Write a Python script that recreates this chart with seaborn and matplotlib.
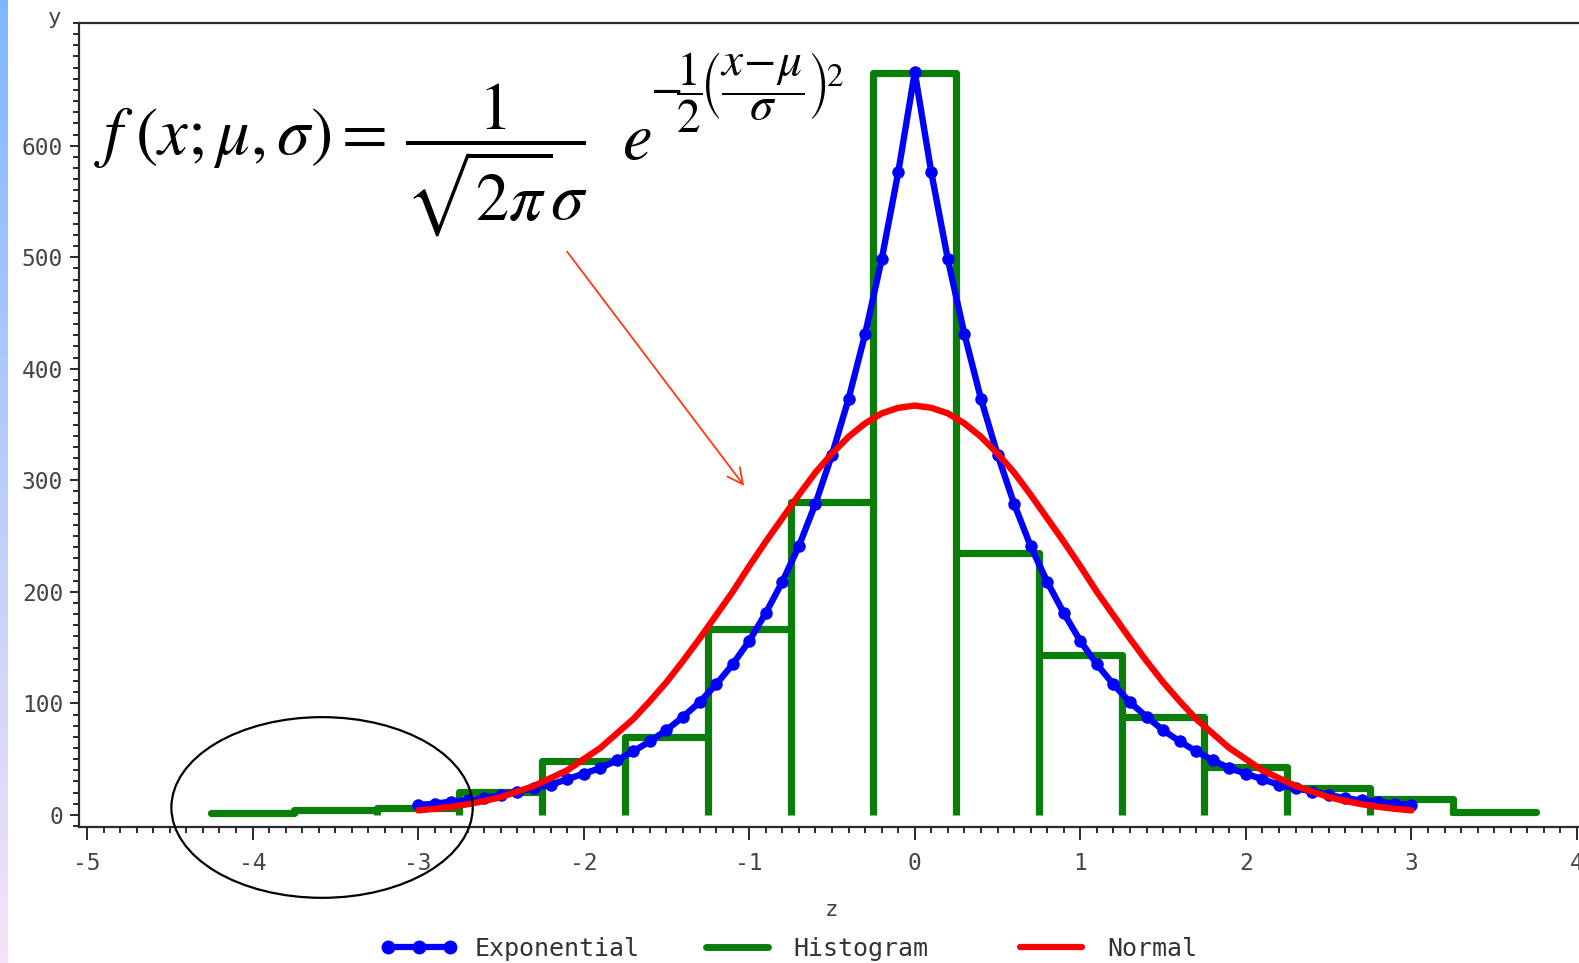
import numpy as np
import pandas as pd
import matplotlib
matplotlib.use("Agg")
import matplotlib.pyplot as plt
import seaborn as sns
from matplotlib.patches import Ellipse
from matplotlib.lines import Line2D
from matplotlib.ticker import MultipleLocator, FixedLocator

# ---------------- data ----------------
z_curve = [round(-3.0 + 0.1 * i, 1) for i in range(61)]
exp_right = [666, 576, 498, 431, 373, 323, 279, 241, 209, 181, 156, 135, 117, 101,
             88, 76, 66, 57, 49, 42, 37, 32, 27, 24, 21, 18, 15, 13, 12, 10, 9]
exponential = exp_right[::-1] + exp_right[1:]
norm_right = [367, 365, 360, 351, 339, 324, 307, 287, 266, 245, 223, 200, 179, 158,
              138, 119, 102, 86, 73, 60, 50, 40, 33, 26, 21, 16, 12.5, 9.6, 7.3, 5.5, 4.1]
normal = norm_right[::-1] + norm_right[1:]

hist_edges = [-4.25, -3.75, -3.25, -2.75, -2.25, -1.75, -1.25, -0.75, -0.25,
              0.25, 0.75, 1.25, 1.75, 2.25, 2.75, 3.25, 3.75]
hist_heights = [2, 4, 6, 21, 48, 70, 167, 281, 665, 235, 143, 88, 43, 24, 14, 3]

x_ticks = [-5, -4, -3, -2, -1, 0, 1, 2, 3, 4]
y_ticks = [0, 100, 200, 300, 400, 500, 600]
legend_labels = ["Exponential", "Histogram", "Normal"]

BLUE = "#0000ff"
GREEN = "#0a7d0a"
RED = "#ff0000"
AXC = "#2a2a2a"

sns.set_theme(style="white")
plt.rcParams["mathtext.fontset"] = "stix"
plt.rcParams["font.family"] = ["DejaVu Sans Mono", "DejaVu Sans"]

W, H = 1579, 963
fig = plt.figure(figsize=(W / 100, H / 100), dpi=100)
fig.patch.set_facecolor("white")

# left gradient strip
gax = fig.add_axes([0, 0, 7 / W, 1])
top = np.array([0.50, 0.72, 1.00])
bot = np.array([0.96, 0.89, 0.97])
t = np.linspace(0, 1, 200)[:, None]
grad = (top[None, :] * (1 - t) + bot[None, :] * t)[:, None, :]
gax.imshow(grad, aspect="auto", extent=[0, 1, 0, 1])
gax.axis("off")

ax = fig.add_axes([79 / W, (H - 827) / H, 1 - 79 / W, (827 - 23) / H])
ax.set_facecolor("white")

# histogram (step outline)
ax.hlines(hist_heights, hist_edges[:-1], hist_edges[1:], color=GREEN, lw=5.2,
          capstyle="round", zorder=2)
inner = hist_edges[1:-1]
vtops = [max(hist_heights[i], hist_heights[i + 1]) for i in range(len(inner))]
ax.vlines(inner, 0, vtops, color=GREEN, lw=5.2, zorder=2)

df = pd.DataFrame({"z": z_curve, "Exponential": exponential, "Normal": normal})
sns.lineplot(data=df, x="z", y="Exponential", ax=ax, color=BLUE, lw=4.6,
             marker="o", markersize=9, markeredgewidth=0, zorder=3)
sns.lineplot(data=df, x="z", y="Normal", ax=ax, color=RED, lw=4.6, zorder=4)

ax.set_xlim(-5.048, 4.012)
ax.set_ylim(-10.8, 710)

ax.xaxis.set_major_locator(FixedLocator(x_ticks))
ax.xaxis.set_minor_locator(MultipleLocator(0.1))
ax.yaxis.set_major_locator(FixedLocator(y_ticks))
ax.yaxis.set_minor_locator(MultipleLocator(10))
ax.set_xticklabels([str(v) for v in x_ticks])
ax.set_yticklabels([str(v) for v in y_ticks])
ax.tick_params(axis="x", which="major", direction="out", length=9, width=1.4,
               color=AXC, labelsize=16.5, labelcolor="#444444", pad=9, bottom=True)
ax.tick_params(axis="x", which="minor", direction="out", length=4.5, width=1.4,
               color=AXC, bottom=True)
ax.tick_params(axis="y", which="major", direction="out", length=6.5, width=1.4,
               color=AXC, labelsize=16.5, labelcolor="#444444", pad=5, left=True)
ax.tick_params(axis="y", which="minor", direction="out", length=4.3, width=1.4,
               color=AXC, left=True)
for s in ["left", "top", "bottom"]:
    ax.spines[s].set_visible(True)
    ax.spines[s].set_color(AXC)
    ax.spines[s].set_linewidth(1.6)
ax.spines["right"].set_visible(False)

ax.set_xlabel("")
ax.set_ylabel("")
fig.text(831 / W, 1 - 910 / H, "z", fontsize=16, color="#444444",
         ha="center", va="center")
fig.text(55 / W, 1 - 18 / H, "y", fontsize=16, color="#444444",
         ha="center", va="center")

# ellipse around the left tail
ax.add_patch(Ellipse((-3.58, 6.7), 1.82, 162, fill=False, ec="black", lw=1.6,
                     clip_on=False, zorder=5))

# arrow
ax.annotate("", xy=(-1.02, 293), xytext=(-2.11, 507),
            arrowprops=dict(arrowstyle="->", color="#ff3a10", lw=1.3,
                            mutation_scale=28), zorder=6)

# formula (main part, the e, and its exponent)
main_part = r"$f\;(x;\mu,\sigma)=\,\dfrac{1}{\sqrt{2\pi}\sigma}$"
fig.text(94 / W, 1 - 160 / H, main_part, fontsize=48, color="black",
         ha="left", va="center")
fig.text(622 / W, 1 - 159 / H, r"$e$", fontsize=48, color="black",
         ha="left", va="baseline")
exponent = r"$-\!\dfrac{1}{2}\!\left(\dfrac{x\!-\!\mu}{\sigma}\right)^{\!2}$"
fig.text(650 / W, 1 - 93 / H, exponent, fontsize=34, color="black",
         ha="left", va="center")

# legend (three entries laid out like the reference)
handles = [
    Line2D([], [], color=BLUE, lw=4.5, marker="o", markersize=10, markeredgewidth=0),
    Line2D([], [], color=GREEN, lw=5),
    Line2D([], [], color=RED, lw=4.5),
]
starts = [380, 698, 1012]
for h, lab, xs in zip(handles, legend_labels, starts):
    fig.legend([h], [lab], loc="center left", bbox_to_anchor=(xs / W, 1 - 949 / H),
               frameon=False, numpoints=3, handlelength=3.1, handletextpad=0.7,
               borderpad=0, borderaxespad=0, fontsize=18,
               labelcolor="#333333")

fig.savefig("out.png", dpi=100, facecolor="white")
